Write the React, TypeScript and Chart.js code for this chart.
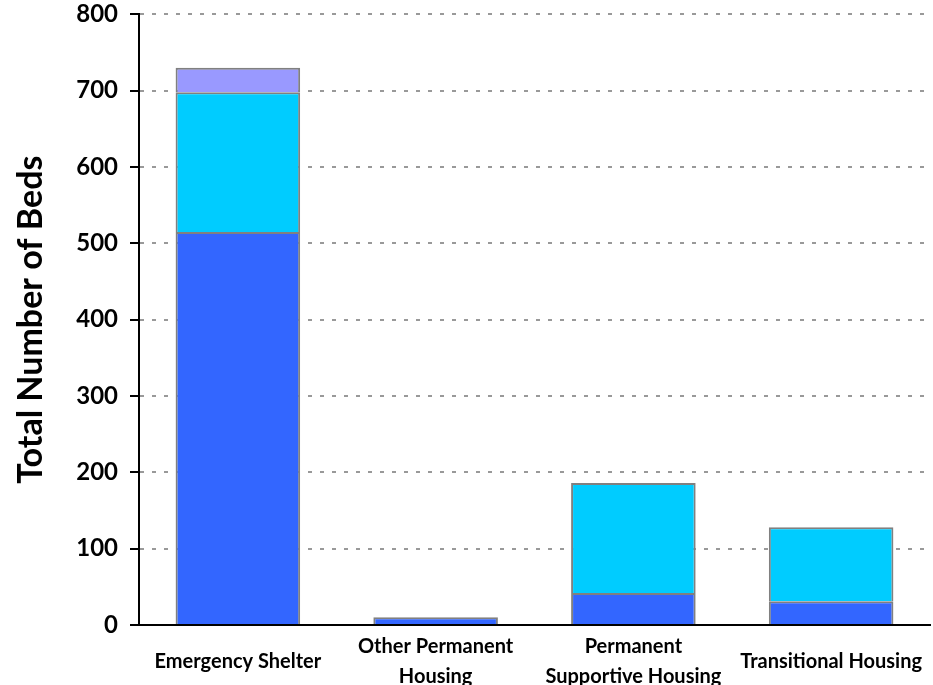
import React, { useEffect, useRef } from "react";
import { Chart, registerables } from "chart.js";

Chart.register(...registerables);

const categories: string[][] = [
  ["Emergency Shelter"],
  ["Other Permanent", "Housing"],
  ["Permanent", "Supportive Housing"],
  ["Transitional Housing"],
];
const seriesA: (number | null)[] = [515, 10, 42, 31];
const seriesB: (number | null)[] = [183, null, 144, 97];
const seriesC: (number | null)[] = [32, null, null, null];
const yTicks = { min: 0, max: 800, step: 100 };
const axisTitle = "Total Number of Beds";

const FONT = "Lato, 'DejaVu Sans', sans-serif";

export default function App() {
  const ref = useRef<HTMLCanvasElement | null>(null);
  useEffect(() => {
    document.body.style.margin = "0";
    const canvas = ref.current!;
    const chart = new Chart(canvas, {
      type: "bar",
      data: {
        labels: categories as any,
        datasets: [
          { data: seriesA, backgroundColor: "#3366FF" },
          { data: seriesB, backgroundColor: "#00CCFF" },
          { data: seriesC, backgroundColor: "#9999FF" },
        ].map((d) => ({
          ...d,
          borderColor: "#808080",
          borderWidth: { top: 2, left: 2, right: 2, bottom: 0 } as any,
          borderSkipped: false as any,
          categoryPercentage: 1,
          barPercentage: 0.63,
        })),
      },
      options: {
        responsive: false,
        animation: false,
        layout: { padding: { top: 0, right: 3, left: 0, bottom: 0 } },
        plugins: { legend: { display: false }, tooltip: { enabled: false } },
        scales: {
          x: {
            stacked: true,
            grid: { display: false, drawTicks: true, tickLength: 22 },
            border: { display: true, color: "#000", width: 2 },
            ticks: {
              color: "#000",
              font: { family: FONT, size: 20, weight: "bold", lineHeight: 1.5 },
              padding: 0,
              maxRotation: 0,
              autoSkip: false,
              crossAlign: "center",
            } as any,
            afterFit: (s: any) => {
              s.height = 60;
            },
          },
          y: {
            stacked: true,
            min: yTicks.min,
            max: yTicks.max,
            ticks: {
              stepSize: yTicks.step,
              color: "#000",
              font: { family: FONT, size: 24, weight: "bold", lineHeight: 0.2 },
              padding: 12,
            },
            grid: {
              color: "#999999",
              lineWidth: 2,
              tickColor: "#000",
              tickLength: 9,
              tickWidth: 2,
            },
            border: { display: true, color: "#000", width: 2, dash: [4, 8] },
            title: {
              display: true,
              text: axisTitle,
              color: "#000",
              font: { family: FONT, size: 34, weight: "bold" },
              padding: { top: 11, bottom: 0 },
            },
            afterFit: (s: any) => {
              s.width = 139;
            },
          },
        },
      },
    });
    return () => chart.destroy();
  }, []);
  return <canvas ref={ref} width={933} height={685} style={{ display: "block" }} />;
}
